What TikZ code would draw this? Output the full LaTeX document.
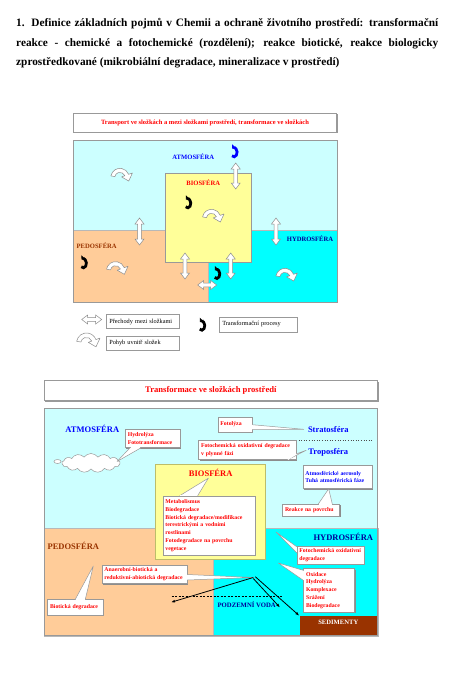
\documentclass[tikz,border=0pt]{standalone}
\usepackage{fontspec}
\setmainfont{Liberation Serif}
\usetikzlibrary{shapes.symbols,arrows.meta,shadows,calc}
\definecolor{atm}{HTML}{CCFFFF}
\definecolor{ped}{HTML}{FFCC99}
\definecolor{hyd}{HTML}{00FFFF}
\definecolor{bio}{HTML}{FFFF99}
\definecolor{biob}{HTML}{BDBD6A}
\definecolor{sed}{HTML}{993300}
\definecolor{pedt}{HTML}{993300}
\definecolor{hydt}{HTML}{000099}
\definecolor{atmt}{HTML}{0000FF}
\definecolor{frm}{HTML}{999999}
\definecolor{arrc}{HTML}{8C8C8C}
\newcommand\fsz[2]{\fontsize{#1}{#2}\selectfont}
\newcommand\callptr[3]{%
  \filldraw[ptrstyle] (#1) -- (#2) -- (#3);
  \draw[white, line width=1pt, shorten >=0.6pt, shorten <=0.6pt] (#1) -- (#3);}
\begin{document}
\begin{tikzpicture}[x=1pt,y=-1pt,
  frame/.style={draw=frm, line width=0.8pt},
  reg/.style={draw=frm!70, line width=0.3pt},
  lbl/.style={font=\fsz{6.6}{7}\bfseries, inner sep=0pt},
  biglbl/.style={font=\fsz{8.5}{9}\bfseries, inner sep=0pt},
  titlebox/.style={draw=frm, fill=white, inner sep=0pt, text=red, line width=0.6pt,
     drop shadow={shadow xshift=1pt, shadow yshift=-1pt, fill=black!40, opacity=1}},
  legbox/.style={draw=frm, fill=white, anchor=north west, inner xsep=3pt, inner ysep=0pt,
     align=left, font=\fsz{6.3}{7}, line width=0.5pt,
     drop shadow={shadow xshift=0.8pt, shadow yshift=-0.8pt, fill=black!40, opacity=1}},
  callout/.style={draw=frm, fill=white, anchor=north west, inner xsep=2.5pt, inner ysep=0pt,
     align=left, text=red, font=\fsz{5.8}{7.8}\bfseries, line width=0.5pt,
     drop shadow={shadow xshift=1pt, shadow yshift=-1pt, fill=black!45, opacity=1}},
  ptrstyle/.style={draw=frm, fill=white, line width=0.5pt, line join=round},
  blackarrow/.style={draw=black, line width=0.8pt, -{Latex[length=4pt,width=3pt]}},
  darr/.pic={\draw[draw=arrc, fill=white, line width=0.5pt, line join=miter]
     (0,{-#1}) -- (4.5,{-#1+6}) -- (1.9,{-#1+6}) -- (1.9,{#1-6}) -- (4.5,{#1-6}) -- (0,{#1})
     -- (-4.5,{#1-6}) -- (-1.9,{#1-6}) -- (-1.9,{-#1+6}) -- (-4.5,{-#1+6}) -- cycle;},
  curv/.pic={\draw[draw=arrc, fill=white, line width=0.5pt, line join=round]
     (190:8) arc[start angle=190, end angle=340, radius=8] -- (340:11.5) -- (22:8.2)
     -- (340:1.5) -- (340:4.5) arc[start angle=340, end angle=190, radius=4.5] -- cycle;},
  trans/.pic={\draw[line width=2.8pt, -{Triangle[length=3pt, width=6pt]}]
     (130:3.1 and 4.5) arc[start angle=130, end angle=-125, x radius=3.1, y radius=4.5];}
]
\useasboundingbox (0,0) rectangle (458,686);
\fill[white] (0,0) rectangle (458,686);

% ---------- heading ----------
\node[anchor=west, inner sep=0pt, font=\fsz{11.3}{13}\bfseries] (h1) at (16,24)
  {\makebox[422pt][s]{1. Definice základních pojmů v Chemii a ochraně životního prostředí: transformační}};
\node[anchor=west, inner sep=0pt, font=\fsz{11.3}{13}\bfseries] (h2) at (16,43.5)
  {\makebox[422pt][s]{reakce - chemické a fotochemické (rozdělení); reakce biotické, reakce biologicky}};
\node[anchor=west, inner sep=0pt, font=\fsz{11.3}{13}\bfseries] (h3) at (16,63)
  {zprostředkované (mikrobiální degradace, mineralizace v prostředí)};

% ---------- first diagram ----------
\node[titlebox, minimum width=263.4pt, minimum height=19pt, font=\fsz{6.5}{7}\bfseries] (t1) at (205,122.8)
  {Transport ve složkách a mezi složkami prostředí, transformace ve složkách};

\fill[atm] (73,140) rectangle (337,302);
\filldraw[fill=ped, reg] (73,230) rectangle (207.7,302);
\filldraw[fill=hyd, reg] (207.7,230) rectangle (337,302);
\filldraw[fill=bio, draw=frm, line width=0.5pt] (165,173.3) rectangle (251.7,262.3);
\draw[frame] (73,140) rectangle (337,302);

\node[lbl, text=atmt] (atm1) at (193.3,156.7) {ATMOSFÉRA};
\node[lbl, text=red] (bio1) at (203.3,182.3) {BIOSFÉRA};
\node[lbl, text=hydt] (hyd1) at (310,239) {HYDROSFÉRA};
\node[lbl, text=pedt] (ped1) at (96.7,246) {PEDOSFÉRA};

% transitions between compartments
\pic at (235.7,176) {darr=13};
\pic at (139.5,231.5) {darr=13.5};
\pic at (276,231.5) {darr=13.5};
\pic at (185,266) {darr=13};
\pic at (230.7,266) {darr=13};
\pic[rotate=90] at (207.2,285) {darr=9.5};

% movement within compartments
\pic[scale=1.15] at (120,177.5) {curv};
\pic[scale=1.15] at (211.6,218.5) {curv};
\pic[scale=1.15] at (115.6,270.8) {curv};
\pic[scale=1.15] at (285,277.5) {curv};

% transformation processes
\pic[color=atmt] at (234,152.3) {trans};
\pic at (187.7,203.3) {trans};
\pic at (83.3,263.3) {trans};
\pic at (216.7,274) {trans};

% legend
\pic[rotate=90] at (91.7,319.5) {darr=10};
\pic[scale=1.25] at (86.5,343) {curv};
\pic at (201.7,325.7) {trans};
\node[legbox, text width=67pt, minimum height=14pt] (l1) at (106,314.3) {Přechody mezi složkami};
\node[legbox, text width=67pt, minimum height=14pt] (l2) at (106,336) {Pohyb uvnitř složek};
\node[legbox, text width=72.3pt, minimum height=15pt] (l3) at (219,316.7) {Transformační procesy};

% ---------- second diagram ----------
\node[titlebox, minimum width=333.7pt, minimum height=20pt, font=\fsz{8.6}{9}\bfseries] (t2) at (210.85,390.7)
  {Transformace ve složkách prostředí};

\fill[atm] (44,408.3) rectangle (377.7,635.7);
\filldraw[fill=ped, reg] (44,528.3) rectangle (213.3,635.7);
\filldraw[fill=hyd, reg] (213.3,528.3) rectangle (377.7,635.7);
\filldraw[fill=bio, draw=biob, line width=1pt] (155.7,464.3) rectangle (265.7,559.3);
\node[fill=sed, anchor=north west, minimum width=78.4pt, minimum height=20pt, inner sep=0pt] (sed) at (299.3,615.7) {};
\node[text=white, inner sep=0pt, font=\fsz{6.6}{7}\bfseries] (sedt) at (338.3,622.7) {SEDIMENTY};
\draw[frame] (44,408.3) rectangle (377.7,635.7);

\draw[dotted, draw=black!70, line width=0.6pt] (293.3,440.7) -- (373.3,440.7);
\draw[dashed, dash pattern=on 2pt off 1.5pt, line width=0.5pt] (171.7,596.7) -- (283.3,596.7);

\node[biglbl, text=atmt] (atm2) at (92.3,429) {ATMOSFÉRA};
\node[biglbl, text=atmt] (strato) at (328.3,429.3) {Stratosféra};
\node[biglbl, text=atmt] (tropo) at (328.3,452.3) {Troposféra};
\node[biglbl, text=red] (bio2) at (210.7,473.3) {BIOSFÉRA};
\node[biglbl, text=hydt] (hyd2) at (343.3,536.7) {HYDROSFÉRA};
\node[biglbl, text=pedt] (ped2) at (73.3,545.7) {PEDOSFÉRA};
\node[inner sep=0pt, text=hydt, font=\fsz{6.7}{7}\bfseries] (gw) at (246.7,604.3) {PODZEMNÍ VODA};

% cloud
\node[cloud, draw=frm, fill=white, cloud puffs=13, cloud puff arc=110, aspect=3.2,
      minimum width=58pt, minimum height=19pt, inner sep=0pt, line width=0.5pt] (cloud) at (91,463) {};
\draw[draw=frm, fill=white, line width=0.5pt] (57.5,461.5) ellipse[x radius=3.5, y radius=2];
\coordinate (cloudtip) at (117,461.5);

% callouts
\node[callout, text width=50pt, minimum height=18.3pt] (c1) at (125,429) {Hydrolýza\\Fototransformace};
\node[callout, text width=29pt, minimum height=15pt] (c2) at (217.7,416.7) {Fotolýza};
\node[callout, text width=92.7pt, minimum height=19.3pt] (c3) at (198.3,440) {Fotochemická oxidativní degradace\\v plynné fázi};
\node[callout, text=atmt, text width=64pt, minimum height=23.3pt] (c4) at (302.7,465) {Atmosférické aerosoly\\Tuhá atmosférická fáze};
\node[callout, text width=52pt, minimum height=12pt] (c5) at (282.3,504) {Reakce na povrchu};
\node[callout, text width=87.3pt, minimum height=59.3pt] (c6) at (162.7,495.7)
  {Metabolismus\\Biodegradace\\Biotická degradace/modifikace\\terestrickými a vodními\\rostlinami\\Fotodegradace na povrchu\\vegetace};
\node[callout, text width=62.3pt, minimum height=18.3pt] (c7) at (296.7,545.7) {Fotochemická oxidativní\\degradace};
\node[callout, text width=46pt, minimum height=43.4pt] (c8) at (303.3,568.3) {Oxidace\\Hydrolýza\\Komplexace\\Srážení\\Biodegradace};
\node[callout, text width=80pt, minimum height=18.3pt] (c9) at (101.7,565) {Anaerobní-biotická a\\reduktivní-abiotická degradace};
\node[callout, text width=50.4pt, minimum height=15.7pt] (c10) at (47.3,599.3) {Biotická degradace};

\coordinate (hub) at (253.3,577.5);
\coordinate (hydtip1) at (276,532);
\coordinate (hydtip2) at (278.3,563);
\coordinate (pedtip) at (93.3,566);

\callptr{[xshift=5pt]c1.south west}{cloudtip}{[xshift=16pt]c1.south west}
\callptr{[yshift=-8pt]c2.north east}{[xshift=-4pt]strato.west}{[yshift=-13pt]c2.north east}
\callptr{[xshift=-9pt]c3.south east}{[xshift=-2pt,yshift=2pt]tropo.west}{[yshift=6pt]c3.south east}
\callptr{[xshift=36pt]c5.north west}{[xshift=26pt]c4.south west}{[xshift=50pt]c5.north west}
\callptr{[xshift=17pt]c6.north west}{[xshift=-2.4pt,yshift=-1pt]bio2.south}{[xshift=35pt]c6.north west}
\callptr{[yshift=-1pt]c7.north west}{hydtip1}{[yshift=-7pt]c7.north west}
\callptr{[yshift=-2pt]c8.north west}{hydtip2}{[yshift=-12pt]c8.north west}
\callptr{[yshift=-9.5pt]c9.north east}{hub}{[yshift=-15pt]c9.north east}
\callptr{[xshift=28pt]c10.north west}{pedtip}{[xshift=38pt]c10.north west}

% black arrows
\coordinate (pedtgt) at (171,602.3);
\coordinate (gwtgt) at (280,607.5);
\draw[blackarrow] (hub) -- (pedtgt);
\draw[blackarrow] ([yshift=-1pt]hub) -- (gwtgt);
\draw[blackarrow] ([xshift=2pt,yshift=0.8pt]hub) -- (sed.north west);
\end{tikzpicture}
\end{document}
